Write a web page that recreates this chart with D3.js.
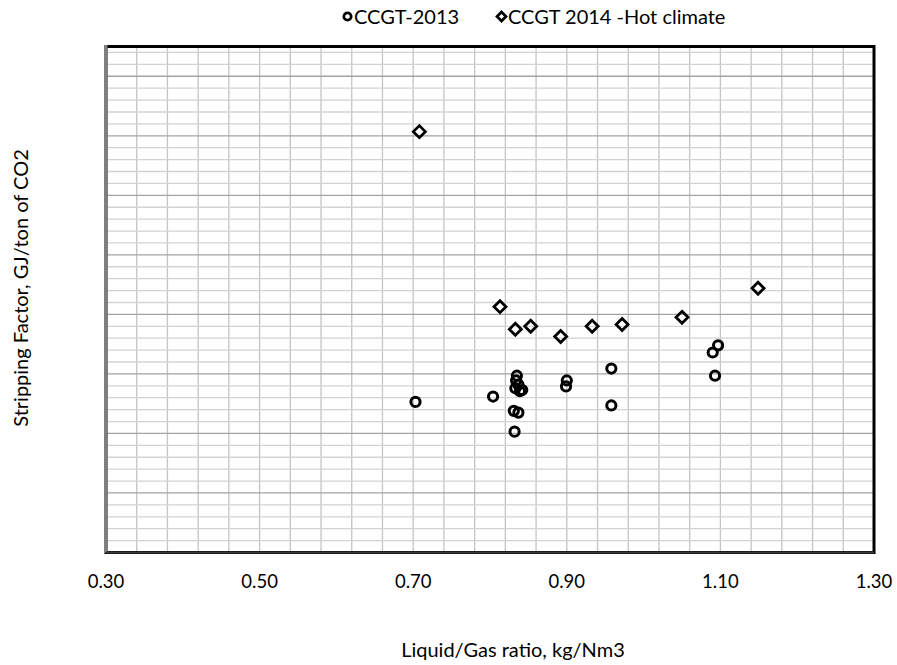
<!DOCTYPE html>
<meta charset="utf-8">
<script src="https://d3js.org/d3.v7.min.js"></script>
<style>
  body { margin: 0; background: #fff; }
  text { font-family: Lato, "Open Sans", sans-serif; fill: #000; }
</style>
<div id="chart"></div>
<script>

// series: CCGT-2013 (circles)
var ccgt2013X = [0.703, 0.804, 0.832, 0.831, 0.837, 0.835, 0.834, 0.837, 0.833, 0.839, 0.842, 0.900, 0.899, 0.958, 0.958, 1.097, 1.090, 1.093]
var ccgt2013Y = [2.53, 2.62, 2.03, 2.38, 2.35, 2.97, 2.89, 2.82, 2.76, 2.71, 2.73, 2.89, 2.79, 3.09, 2.47, 3.48, 3.36, 2.97]

// series: CCGT 2014 -Hot climate (diamonds)
var hotX = [0.708, 0.813, 0.833, 0.853, 0.892, 0.933, 0.972, 1.050, 1.149]
var hotY = [7.07, 4.13, 3.75, 3.80, 3.63, 3.80, 3.83, 3.95, 4.44]

// axis
var xTicks = [0.30, 0.50, 0.70, 0.90, 1.10, 1.30]
var seriesNames = ["CCGT-2013", "CCGT 2014 -Hot climate"]

var width = 897,
    height = 665
var pLeft = 106, pRight = 874, pTop = 46.5, pBottom = 552.5

var svg = d3.select("#chart")
  .append("svg")
    .attr("width", width)
    .attr("height", height)

var x = d3.scaleLinear().domain([0.3, 1.3]).range([pLeft, pRight])
var y = d3.scaleLinear().domain([0, 8.5]).range([pBottom, pTop])

// gridlines (minor 0.04 / 0.2, major 0.2 / 1)
var xMinor = d3.range(0, 26).map(function(i){ return 0.3 + i * 0.04 })
var yMinor = d3.range(1, 43).map(function(i){ return i * 0.2 })

var grid = svg.append("g")
grid.selectAll(".vx")
  .data(xMinor.slice(1, -1))
  .enter().append("line")
    .attr("x1", function(d){ return x(d) }).attr("x2", function(d){ return x(d) })
    .attr("y1", pTop).attr("y2", pBottom)
    .attr("stroke", "#c4c4c4")
    .attr("stroke-width", 1.3)

grid.selectAll(".hy")
  .data(yMinor)
  .enter().append("line")
    .attr("x1", pLeft).attr("x2", pRight)
    .attr("y1", function(d){ return y(d) }).attr("y2", function(d){ return y(d) })
    .attr("stroke", function(d){ return Math.abs(d - Math.round(d)) < 1e-6 ? "#a3a3a3" : "#d3d3d3" })
    .attr("stroke-width", 1.3)

// plot border
svg.append("rect")
  .attr("x", pLeft).attr("y", pTop)
  .attr("width", pRight - pLeft).attr("height", pBottom - pTop)
  .attr("fill", "none")
  .attr("stroke", "#000")
  .attr("stroke-width", 3)

// axis lines
svg.append("line")
  .attr("x1", pLeft).attr("x2", pLeft).attr("y1", pTop - 1.5).attr("y2", pBottom)
  .attr("stroke", "#808080").attr("stroke-width", 3)
svg.append("line")
  .attr("x1", pLeft).attr("x2", pRight).attr("y1", pBottom).attr("y2", pBottom)
  .attr("stroke", "#3a3a3a").attr("stroke-width", 2)

// x tick labels
svg.selectAll(".xt")
  .data(xTicks)
  .enter().append("text")
    .attr("x", function(d){ return x(d) })
    .attr("y", 588)
    .attr("text-anchor", "middle")
    .style("font-size", "18.5px")
    .text(function(d){ return d.toFixed(2) })

// axis titles
svg.append("text")
  .attr("x", 513).attr("y", 657)
  .attr("text-anchor", "middle")
  .style("font-size", "20px")
  .text("Liquid/Gas ratio, kg/Nm3")

svg.append("text")
  .attr("transform", "translate(28,288) rotate(-90)")
  .attr("text-anchor", "middle")
  .style("font-size", "20px")
  .text("Stripping Factor, GJ/ton of CO2")

// markers
var diamond = function(s){ return "M0," + (-s) + "L" + s + ",0L0," + s + "L" + (-s) + ",0Z" }

var circleData = ccgt2013X.map(function(d, i){ return [d, ccgt2013Y[i]] })
var diamondData = hotX.map(function(d, i){ return [d, hotY[i]] })

svg.selectAll(".c")
  .data(circleData)
  .enter().append("circle")
    .attr("cx", function(d){ return x(d[0]) })
    .attr("cy", function(d){ return y(d[1]) })
    .attr("r", 4.6)
    .attr("fill", "none")
    .attr("stroke", "#000")
    .attr("stroke-width", 3)

svg.selectAll(".d")
  .data(diamondData)
  .enter().append("path")
    .attr("d", diamond(6))
    .attr("transform", function(d){ return "translate(" + x(d[0]) + "," + y(d[1]) + ")" })
    .attr("fill", "none")
    .attr("stroke", "#000")
    .attr("stroke-width", 2.8)

// legend
var legend = svg.append("g")
legend.append("circle")
  .attr("cx", 347.5).attr("cy", 16.5).attr("r", 3.7)
  .attr("fill", "none").attr("stroke", "#000").attr("stroke-width", 2.7)
legend.append("text")
  .attr("x", 354).attr("y", 23.5)
  .style("font-size", "20px")
  .text(seriesNames[0])
legend.append("path")
  .attr("d", diamond(4.5))
  .attr("transform", "translate(501.5,16.5)")
  .attr("fill", "none").attr("stroke", "#000").attr("stroke-width", 2.7)
legend.append("text")
  .attr("x", 508).attr("y", 23.5)
  .style("font-size", "20px")
  .text(seriesNames[1])

</script>
